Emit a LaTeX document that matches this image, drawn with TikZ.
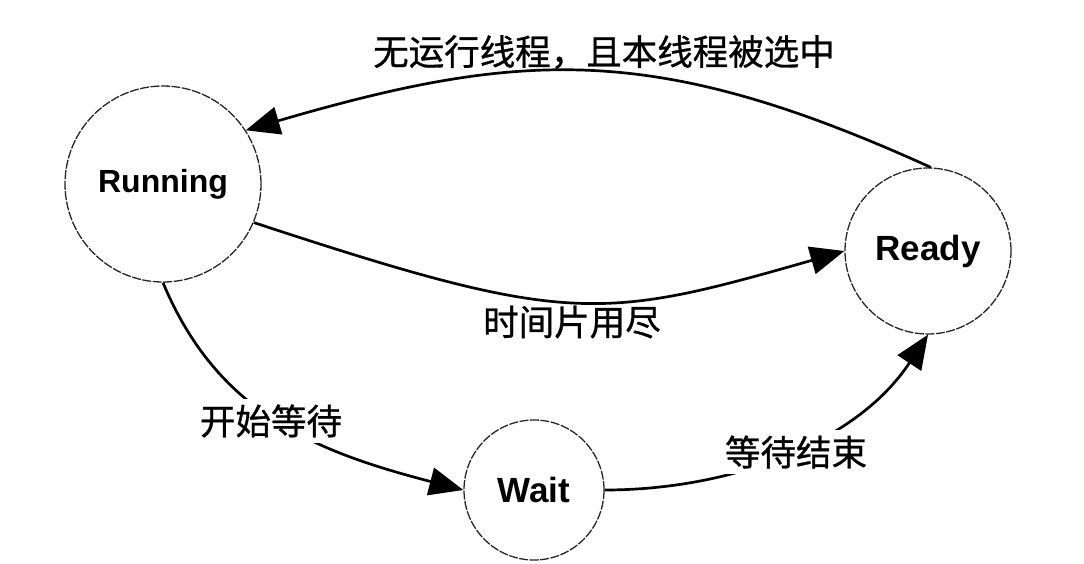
\documentclass[tikz,border=0pt]{standalone}
\usepackage{fontspec}
\setmainfont{Liberation Sans}
\newfontfamily\cjk{Noto Sans CJK SC}[FakeBold=0.8]
\usetikzlibrary{arrows.meta}
\tikzset{
  state/.style={circle, draw=black!85, line width=1.3pt, dash pattern=on 9pt off 1.5pt,
    inner sep=0pt, font=\bfseries\fontsize{35}{40}\selectfont},
  edge/.style={line width=2.7pt, -{Triangle[length=34pt,width=28pt]}},
  lbl/.style={font=\cjk\fontsize{35.5}{40}\selectfont, inner sep=6pt},
  cutlbl/.style={lbl, fill=white}
}
\begin{document}
\begin{tikzpicture}[x=1pt,y=-1pt]
\useasboundingbox (0,0) rectangle (1084,563);
\node[state, minimum size=196pt, font=\bfseries\fontsize{32}{40}\selectfont] (run) at (163,184) {Running};
\node[state, minimum size=166pt] (ready) at (928,251) {Ready};
\node[state, minimum size=140pt] (wait) at (534,490) {Wait};

\draw[edge] (ready.88) .. controls (657,43) and (524,49) .. (run.33);
\draw[edge] (run.-23) .. controls (568,326) and (600,321) .. (ready.180);
\draw[edge] (run.-90) .. controls (217,412) and (313,451) .. (wait.180);
\draw[edge] (wait.0) .. controls (729,490) and (856,444) .. (ready.-90);

\node[lbl] (l1) at (604,52) {无运行线程，且本线程被选中};
\node[lbl] (l2) at (572,322) {时间片用尽};
\node[cutlbl] (l3) at (271,421) {开始等待};
\node[cutlbl] (l4) at (796,452) {等待结束};
\end{tikzpicture}
\end{document}
